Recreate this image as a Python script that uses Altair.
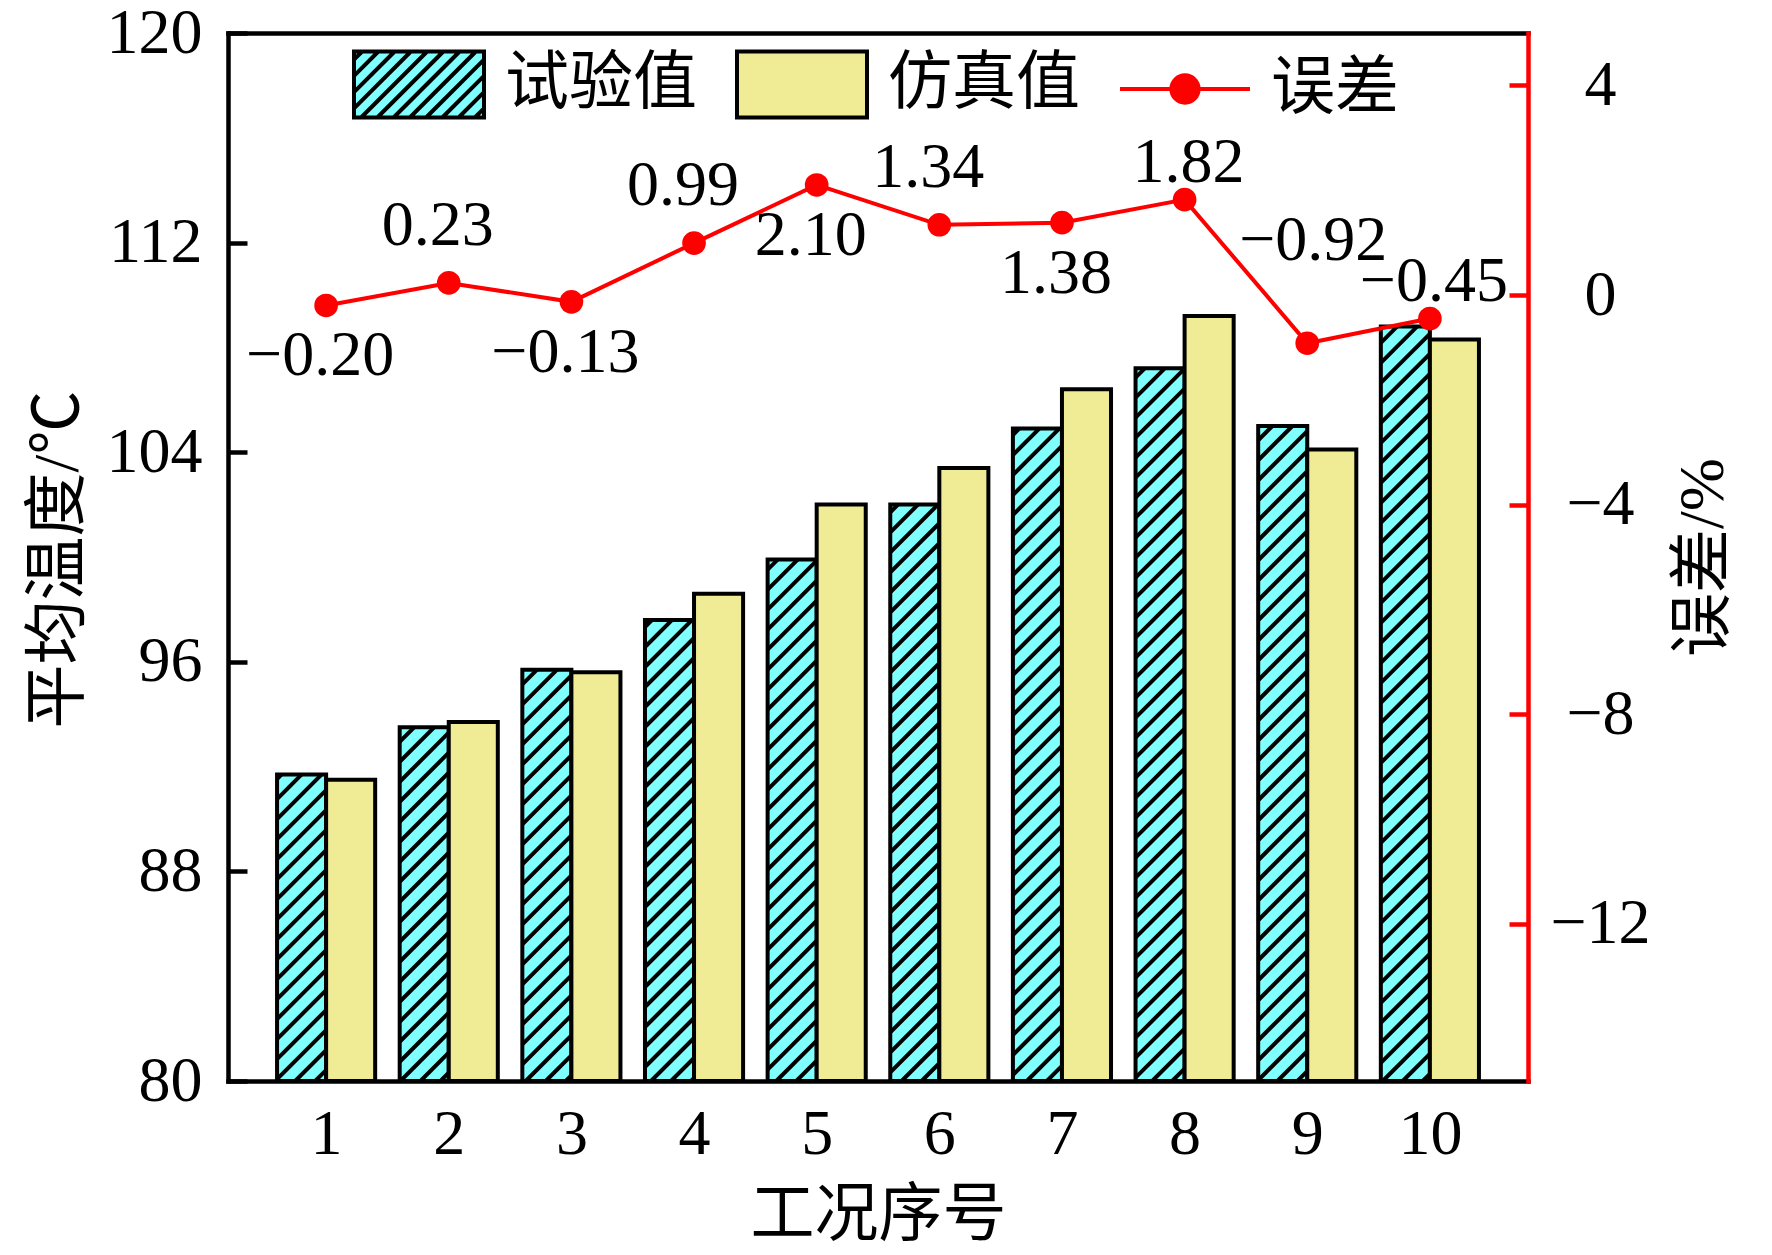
import altair as alt
import pandas as pd

# ---------------- data ----------------
cases = [1, 2, 3, 4, 5, 6, 7, 8, 9, 10]
exp_vals = [91.7, 93.5, 95.7, 97.6, 99.9, 102.0, 104.9, 107.2, 105.0, 108.8]
sim_vals = [91.5, 93.7, 95.6, 98.6, 102.0, 103.4, 106.4, 109.2, 104.1, 108.3]
err_vals = [-0.20, 0.23, -0.13, 0.99, 2.10, 1.34, 1.38, 1.82, -0.92, -0.45]
label_place = ["below", "above", "below", "above", "below", "above", "below", "near", "high", "near"]
series_names = ["试验值", "仿真值", "误差"]
temp_ticks = [80, 88, 96, 104, 112, 120]
err_ticks = [-12, -8, -4, 0, 4]

# ---------------- style / layout ----------------
W, H = 1300, 1048
X_DOM = [0.2, 10.8]
YL_DOM = [80, 120]
YR_DOM = [-15, 5]
BAR_W = 0.4
CYAN = "#80FFFF"
YELLOW = "#F0EC96"
RED = "#FF0000"
NUM_FONT = "Liberation Serif"
MIX_FONT = "Liberation Serif, Noto Sans CJK SC"
FS = 64
HATCH_GAP = 20
LABEL_OFFSETS = {"below": (-6, 51), "above": (-11, -57), "near": (4, -37), "high": (6, -102)}

df = pd.DataFrame({"case": cases, "exp": exp_vals, "sim": sim_vals,
                   "err": err_vals, "place": label_place})

# hatch segments (45 degree "/" stripes) inside each 试验值 bar, derived from bar values
px_x = W / (X_DOM[1] - X_DOM[0])
px_y = H / (YL_DOM[1] - YL_DOM[0])
hrows = []
for c, v in zip(cases, exp_vals):
    x0 = c - BAR_W
    bw = BAR_W * px_x
    bh = (v - YL_DOM[0]) * px_y
    left_px = (x0 - X_DOM[0]) * px_x
    k = -bw - (left_px % HATCH_GAP)
    while k < bh:
        xs = max(0.0, -k)
        xe = min(bw, bh - k)
        if xe > xs:
            hrows.append({"hx": x0 + xs / px_x, "hy": YL_DOM[0] + (xs + k) / px_y,
                          "hx2": x0 + xe / px_x, "hy2": YL_DOM[0] + (xe + k) / px_y})
        k += HATCH_GAP
hatch_df = pd.DataFrame(hrows)


# legend symbol paths
def hatched_rect(h=0.508, gap=0.25):
    p = f"M-1,{-h}H1V{h}H-1Z"
    c = -1 - h + gap / 2
    while c < 1 + h:
        s0 = max(-h, -1 - c)
        s1 = min(h, 1 - c)
        if s1 > s0:
            p += f"M{c + s0:.3f},{-s0:.3f}L{c + s1:.3f},{-s1:.3f}"
        c += gap
    return p


plain_rect = "M-1,-0.508H1V0.508H-1Z"
line_dot = "M-1,0H1M-0.21,0A0.21,0.21 0 1,0 0.21,0A0.21,0.21 0 1,0 -0.21,0Z"

# ---------------- scales & axes ----------------
xscale = alt.Scale(domain=X_DOM, nice=False, zero=False)


def yl_scale():
    return alt.Scale(domain=YL_DOM, nice=False, zero=False)


def yr_scale():
    return alt.Scale(domain=YR_DOM, nice=False, zero=False)


x_bottom = alt.Axis(orient="bottom", values=cases, format="d", ticks=False, tickSize=0,
                    domainColor="black", domainWidth=4.5, domainCap="square",
                    labelFont=NUM_FONT, labelFontSize=FS, labelColor="black",
                    labelPadding=72, labelBaseline="alphabetic", labelFlush=False,
                    labelOverlap=False, grid=False,
                    title="工况序号", titleFont=MIX_FONT, titleFontSize=FS,
                    titleFontWeight="normal", titleColor="black", titleX=650, titleY=134,
                    titleAlign="center", titleBaseline="middle", titleLimit=1000)
x_top = alt.Axis(orient="top", labels=False, ticks=False, tickSize=0, domainColor="black",
                 domainWidth=4.5, domainCap="square", grid=False, title=None)

yl_labels = alt.Axis(orient="left", values=temp_ticks, ticks=False, tickSize=0, labelPadding=26,
                     labelFont=NUM_FONT, labelFontSize=FS, labelColor="black", labelAlign="right",
                     labelBaseline="middle", labelFlush=False, labelOverlap=False,
                     domainColor="black", domainWidth=4.5, domainCap="square", grid=False,
                     title="平均温度/℃", titleFont=MIX_FONT, titleFontSize=FS,
                     titleFontWeight="normal", titleColor="black", titleX=-170, titleY=526,
                     titleAngle=270, titleAlign="center", titleBaseline="middle", titleLimit=1000)
yl_ticks = alt.Axis(orient="left", values=temp_ticks, labels=False, domain=False, ticks=True,
                    tickSize=19, tickWidth=4.5, tickColor="black", offset=-19, grid=False, title=None)

yr_labels = alt.Axis(orient="right", values=err_ticks, format="d", ticks=False, tickSize=0,
                     labelPadding=72, labelFont=NUM_FONT, labelFontSize=FS, labelColor="black",
                     labelAlign="center", labelBaseline="middle", labelFlush=False,
                     labelOverlap=False, domainColor=RED, domainWidth=4.5, domainCap="square",
                     grid=False, title="误差/%", titleFont=MIX_FONT, titleFontSize=FS,
                     titleFontWeight="normal", titleColor="black", titleX=175, titleY=524,
                     titleAngle=270, titleAlign="center", titleBaseline="middle", titleLimit=1000)
yr_ticks = alt.Axis(orient="right", values=err_ticks, labels=False, domain=False, ticks=True,
                    tickSize=19, tickWidth=4.5, tickColor=RED, offset=-19, grid=False, title=None)

base = alt.Chart(df).transform_calculate(
    x_lo=f"datum.case - {BAR_W}", x_hi=f"datum.case + {BAR_W}"
)

# ---------------- temperature bars ----------------
cyan_fill = base.mark_rect(fill=CYAN).encode(
    x=alt.X("x_lo:Q", scale=xscale, axis=x_bottom),
    x2="case:Q",
    y=alt.Y("exp:Q", scale=yl_scale(), axis=yl_labels),
    y2=alt.datum(YL_DOM[0]),
)
hatch = alt.Chart(hatch_df).mark_rule(color="black", strokeWidth=4, strokeCap="butt").encode(
    x=alt.X("hx:Q", scale=xscale, axis=None),
    x2="hx2:Q",
    y=alt.Y("hy:Q", scale=yl_scale(), axis=None),
    y2="hy2:Q",
)
cyan_outline = base.mark_rect(fill="transparent", stroke="black", strokeWidth=4).encode(
    x=alt.X("x_lo:Q", scale=xscale, axis=None),
    x2="case:Q",
    y=alt.Y("exp:Q", scale=yl_scale(), axis=None),
    y2=alt.datum(YL_DOM[0]),
)
yellow = base.mark_rect(fill=YELLOW, stroke="black", strokeWidth=4).encode(
    x=alt.X("case:Q", scale=xscale, axis=None),
    x2="x_hi:Q",
    y=alt.Y("sim:Q", scale=yl_scale(), axis=yl_ticks),
    y2=alt.datum(YL_DOM[0]),
)

# ---------------- error line ----------------
err_line = base.mark_line(color=RED, strokeWidth=4).encode(
    x=alt.X("case:Q", scale=xscale, axis=x_top),
    y=alt.Y("err:Q", scale=yr_scale(), axis=yr_labels),
)
err_pts = base.mark_point(filled=True, color=RED, size=560, opacity=1, strokeWidth=0).encode(
    x=alt.X("case:Q", scale=xscale, axis=None),
    y=alt.Y("err:Q", scale=yr_scale(), axis=yr_ticks),
)
texts = []
for key, (ddx, ddy) in LABEL_OFFSETS.items():
    texts.append(
        base.transform_filter(alt.datum.place == key)
        .mark_text(dx=ddx, dy=ddy, font=NUM_FONT, fontSize=FS, color="black",
                   align="center", baseline="middle")
        .encode(
            x=alt.X("case:Q", scale=xscale, axis=None),
            y=alt.Y("err:Q", scale=yr_scale(), axis=None),
            text=alt.Text("err:Q", format=".2f"),
        )
    )

legend_df = pd.DataFrame({"series": series_names,
                          "lx": [X_DOM[0] - 1.0] * len(series_names),
                          "ly": [0.0] * len(series_names)})
leg = alt.Legend(title=None, orient="none", direction="horizontal", legendX=124, legendY=-16,
                 symbolSize=16900, symbolStrokeWidth=4, labelFont=MIX_FONT, labelFontSize=FS,
                 labelColor="black", labelLimit=600, labelOffset=19, columnPadding=32,
                 labelBaseline="middle", padding=0)
legend_layer = alt.Chart(legend_df).mark_point(clip=True, filled=True, size=16900,
                                               strokeWidth=4, opacity=1).encode(
    x=alt.X("lx:Q", scale=xscale, axis=None),
    y=alt.Y("ly:Q", scale=yr_scale(), axis=None),
    fill=alt.Fill("series:N", scale=alt.Scale(domain=series_names, range=[CYAN, YELLOW, RED]),
                  legend=leg),
    stroke=alt.Stroke("series:N", scale=alt.Scale(domain=series_names, range=["black", "black", RED]),
                      legend=leg),
    shape=alt.Shape("series:N",
                    scale=alt.Scale(domain=series_names, range=[hatched_rect(), plain_rect, line_dot]),
                    legend=leg),
)

chart = (
    alt.layer(cyan_fill, hatch, cyan_outline, yellow, err_line, err_pts, *texts, legend_layer)
    .resolve_scale(y="independent")
    .resolve_axis(x="independent", y="independent")
    .properties(width=W, height=H,
                autosize=alt.AutoSizeParams(type="none"),
                padding={"left": 220, "top": 25, "right": 236, "bottom": 166},
                background="white")
    .configure_view(stroke="transparent")
)

chart.save("out.html", embed_options={"renderer": "svg", "actions": False})
